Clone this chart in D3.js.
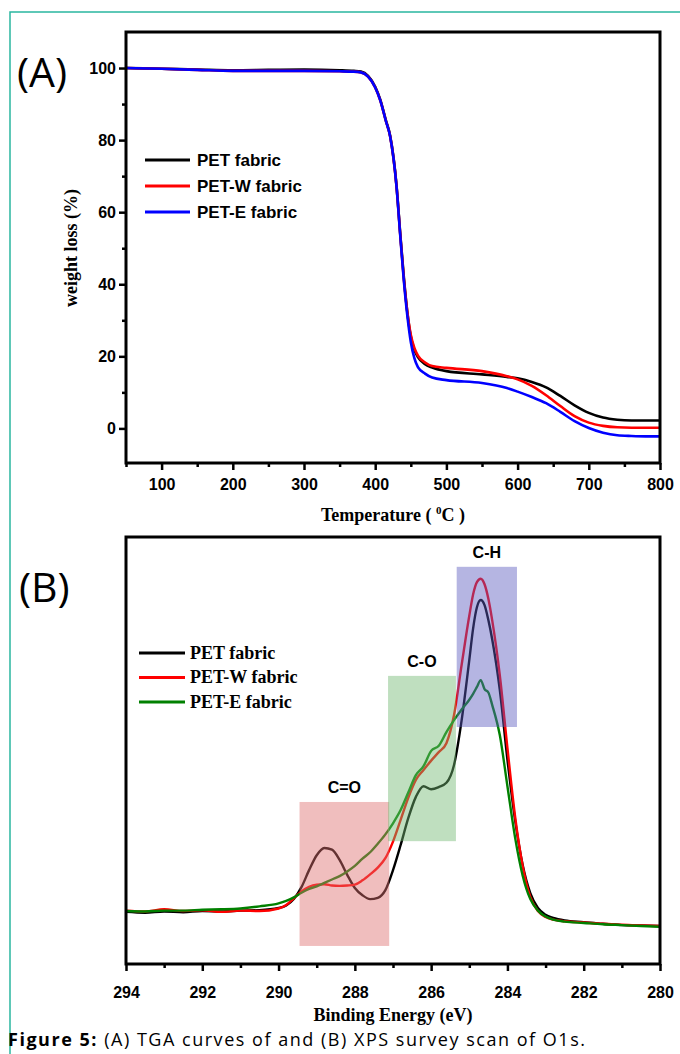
<!DOCTYPE html>
<html><head><meta charset="utf-8">
<script src="https://cdn.jsdelivr.net/npm/d3@7"></script>
<style>
html,body{margin:0;padding:0;background:#fff;}
svg{display:block;}
</style></head>
<body>
<svg id="fig" width="680" height="1054"></svg>
<script>
// ---------- Panel A: TGA data ----------
const tempC   = [50,100,150,200,250,300,350,370,380,390,400,407,415,421,430,435,440,445,450,455,460,470,480,500,550,585,600,620,640,660,680,700,720,740,760,780,800];
const petA    = [100,99.8,99.6,99.4,99.5,99.6,99.4,99.2,99.0,97.8,94.8,91.3,85.5,81.2,67.3,54.5,42.5,32.5,25.5,21.8,19.8,17.8,16.9,15.9,15.0,14.3,13.9,12.9,11.4,9.0,6.4,4.3,3.0,2.4,2.2,2.2,2.2];
const petWA   = [100,99.8,99.5,99.2,99.2,99.2,99.1,99.0,98.8,97.6,94.6,91.1,85.3,81.0,67.0,54.2,42.0,32.5,26.0,22.3,20.2,18.3,17.3,16.8,15.9,14.5,13.6,11.8,9.2,6.2,3.4,1.6,0.7,0.3,0.2,0.2,0.2];
const petEA   = [100,99.8,99.5,99.2,99.2,99.2,99.1,99.0,98.8,97.6,94.6,91.1,85.3,81.0,67.0,54.0,41.5,31.5,24.0,19.5,17.0,15.2,14.1,13.4,12.6,11.2,10.2,8.7,7.0,4.6,2.0,0.1,-1.2,-1.9,-2.1,-2.2,-2.2];
const tempTicks = [100,200,300,400,500,600,700,800];
const tempMinorTicks = [50,150,250,350,450,550,650,750];
const weightTicks = [0,20,40,60,80,100];
const weightMinorTicks = [10,30,50,70,90];
const seriesNamesA = ["PET fabric","PET-W fabric","PET-E fabric"];
const seriesColorsA = ["#000000","#ff0000","#0000ff"];

// ---------- Panel B: XPS data ----------
const energy = [294,293.5,293,292.5,292,291.5,291,290.5,290,289.8,289.6,289.4,289.2,289.0,288.8,288.6,288.4,288.2,288.0,287.8,287.6,287.4,287.2,287.0,286.8,286.6,286.4,286.2,286.0,285.8,285.6,285.4,285.2,285.0,284.9,284.8,284.7,284.6,284.5,284.4,284.2,284.0,283.8,283.6,283.4,283.2,283.0,282.8,282.5,282,281.5,281,280.5,280];
const petB  = [12.0,11.8,12.1,11.9,12.2,12.1,12.3,12.4,12.9,13.5,15.0,17.8,21.8,25.3,27.0,26.6,24.2,20.7,17.6,15.9,15.0,15.3,17.1,21.8,27.7,34.0,39.0,41.5,40.8,41.3,42.3,46.5,57.0,71.1,78.5,83.5,85.2,84.0,80.5,76.0,64.1,47.7,33.6,23.0,16.4,12.9,11.3,10.6,10.0,9.6,9.2,8.9,8.8,8.7];
const petWB = [12.3,12.1,12.6,12.2,12.4,12.0,12.3,12.2,12.8,13.6,15.2,16.8,17.9,18.4,18.5,18.2,18.1,18.2,18.4,19.4,20.8,22.4,24.6,28.5,33.6,38.8,43.0,45.3,47.5,49.5,51.6,58.2,70.0,81.5,86.5,89.4,90.2,88.9,85.5,80.5,67.6,50.5,34.5,22.8,15.5,12.2,10.8,10.2,9.8,9.5,9.2,9.0,8.8,8.7];
const petEB = [12.2,12.1,12.3,12.3,12.5,12.6,12.8,13.3,14.0,14.6,15.4,16.5,17.4,18.0,18.8,19.6,20.4,21.5,22.8,24.5,26.0,28.0,30.2,32.8,35.9,40.0,44.1,46.2,49.8,51.0,54.2,57.0,59.5,61.8,63.2,64.8,66.4,64.3,63.5,60.6,53.5,41.5,29.5,20.5,15.0,12.3,10.9,10.2,9.7,9.4,9.1,8.9,8.7,8.5];
const energyTicks = [294,292,290,288,286,284,282,280];
const energyMinorTicks = [293,291,289,287,285,283,281];
const seriesNamesB = ["PET fabric","PET-W fabric","PET-E fabric"];
const seriesColorsB = ["#000000","#ff0000","#008000"];
// bands
const bandLabels = ["C=O","C-O","C-H"];
const bandHigh   = [289.45,287.13,285.33];
const bandLow    = [287.1,285.35,283.75];
const bandTop    = [37.8,67.4,93.0];
const bandBottom = [4.0,28.6,55.4];
const bandColors = ["rgba(222,111,111,0.45)","rgba(113,184,113,0.45)","rgba(91,91,191,0.45)"];

const svg = d3.select("#fig");
const ARIAL = "'Liberation Sans', Arial, sans-serif";
const TIMES = "'Liberation Serif', 'Times New Roman', serif";
const CAL = "'Open Sans', 'Noto Sans', sans-serif";

// page border (teal)
svg.append("path").attr("d","M680,12 H10 V1054").attr("fill","none").attr("stroke","#2ab7a0").attr("stroke-width",1.5);

// ================= Panel A =================
const A = {l:126, r:660, t:32, b:463};
const xA = d3.scaleLinear().domain([50,800]).range([A.l,A.r]);
const yA = d3.scaleLinear().domain([-9.6,110]).range([A.b,A.t]);
const gA = svg.append("g");

const lineA = d3.line().x((d,i)=>xA(tempC[i])).y(d=>yA(d)).curve(d3.curveMonotoneX);
[petA, petWA, petEA].forEach((s,k)=>{
  gA.append("path").attr("d", lineA(s)).attr("fill","none")
    .attr("stroke", seriesColorsA[k]).attr("stroke-width",2.6).attr("stroke-linejoin","round");
});

const gx = gA.append("g").attr("transform",`translate(0,${A.b})`)
  .call(d3.axisBottom(xA).tickValues(tempTicks).tickSize(7).tickFormat(d3.format("d")));
gA.append("g").attr("transform",`translate(0,${A.b})`)
  .call(d3.axisBottom(xA).tickValues(tempMinorTicks).tickSize(4).tickFormat(""));
gA.append("g").attr("transform",`translate(${A.l},0)`)
  .call(d3.axisLeft(yA).tickValues(weightTicks).tickSize(7).tickFormat(d3.format("d")));
gA.append("g").attr("transform",`translate(${A.l},0)`)
  .call(d3.axisLeft(yA).tickValues(weightMinorTicks).tickSize(4).tickFormat(""));
gA.selectAll(".domain").remove();
gA.selectAll(".tick line").attr("stroke","#000").attr("stroke-width",2.5);
gA.selectAll(".tick text").attr("font-family",ARIAL).attr("font-weight","bold").attr("font-size",16).attr("fill","#000");
gx.selectAll(".tick text").attr("dy","1.05em");
gA.append("rect").attr("x",A.l).attr("y",A.t).attr("width",A.r-A.l).attr("height",A.b-A.t)
  .attr("fill","none").attr("stroke","#000").attr("stroke-width",3);

gA.append("text").attr("x",393).attr("y",521).attr("text-anchor","middle")
  .attr("font-family",TIMES).attr("font-weight","bold").attr("font-size",18)
  .call(t=>{t.append("tspan").text("Temperature ( ");
            t.append("tspan").text("0").attr("font-size",11).attr("dy",-7);
            t.append("tspan").text("C )").attr("dy",7);});
gA.append("text").attr("transform","translate(77,248) rotate(-90)").attr("text-anchor","middle")
  .attr("font-family",TIMES).attr("font-weight","bold").attr("font-size",18).text("weight loss (%)");
svg.append("text").attr("x",17).attr("y",87).attr("font-family",CAL).attr("font-size",41).text("(A)");

seriesNamesA.forEach((n,k)=>{
  const y = 160 + k*26;
  gA.append("line").attr("x1",145).attr("x2",190).attr("y1",y).attr("y2",y)
    .attr("stroke",seriesColorsA[k]).attr("stroke-width",3);
  gA.append("text").attr("x",197).attr("y",y).attr("dy","0.36em")
    .attr("font-family",ARIAL).attr("font-weight","bold").attr("font-size",17).text(n);
});

// ================= Panel B =================
const B = {l:126, r:660, t:537, b:964};
const xB = d3.scaleLinear().domain([294,280]).range([B.l,B.r]);
const yB = d3.scaleLinear().domain([0,100]).range([963,537]);
const gB = svg.append("g");

const lineB = d3.line().x((d,i)=>xB(energy[i])).y(d=>yB(d)).curve(d3.curveMonotoneX);
[petB, petWB, petEB].forEach((s,k)=>{
  gB.append("path").attr("d", lineB(s)).attr("fill","none")
    .attr("stroke", seriesColorsB[k]).attr("stroke-width",2.4).attr("stroke-linejoin","round");
});
bandLabels.forEach((lab,k)=>{
  gB.append("rect").attr("x",xB(bandHigh[k])).attr("width",xB(bandLow[k])-xB(bandHigh[k]))
    .attr("y",yB(bandTop[k])).attr("height",yB(bandBottom[k])-yB(bandTop[k]))
    .attr("fill",bandColors[k]);
  gB.append("text").attr("x",(xB(bandHigh[k])+xB(bandLow[k]))/2).attr("y",yB(bandTop[k])-9)
    .attr("text-anchor","middle").attr("font-family",ARIAL).attr("font-weight","bold").attr("font-size",16).text(lab);
});

const gxb = gB.append("g").attr("transform",`translate(0,${B.b})`)
  .call(d3.axisBottom(xB).tickValues(energyTicks).tickSize(7).tickFormat(d3.format("d")));
gB.append("g").attr("transform",`translate(0,${B.b})`)
  .call(d3.axisBottom(xB).tickValues(energyMinorTicks).tickSize(4).tickFormat(""));
gB.selectAll(".domain").remove();
gB.selectAll(".tick line").attr("stroke","#000").attr("stroke-width",2.5);
gB.selectAll(".tick text").attr("font-family",ARIAL).attr("font-weight","bold").attr("font-size",16).attr("fill","#000");
gxb.selectAll(".tick text").attr("dy","1.5em");
gB.append("rect").attr("x",B.l).attr("y",B.t).attr("width",B.r-B.l).attr("height",B.b-B.t)
  .attr("fill","none").attr("stroke","#000").attr("stroke-width",3);

gB.append("text").attr("x",393).attr("y",1021).attr("text-anchor","middle")
  .attr("font-family",TIMES).attr("font-weight","bold").attr("font-size",18).text("Binding Energy (eV)");
svg.append("text").attr("x",19).attr("y",602).attr("font-family",CAL).attr("font-size",41).text("(B)");

seriesNamesB.forEach((n,k)=>{
  const y = 653 + k*24.5;
  gB.append("line").attr("x1",139).attr("x2",185).attr("y1",y).attr("y2",y)
    .attr("stroke",seriesColorsB[k]).attr("stroke-width",3);
  gB.append("text").attr("x",190).attr("y",y).attr("dy","0.33em")
    .attr("font-family",TIMES).attr("font-weight","bold").attr("font-size",18).text(n);
});

// caption
svg.append("text").attr("x",8).attr("y",1046).attr("font-family",CAL).attr("font-size",18)
  .attr("textLength",577).attr("lengthAdjust","spacing")
  .call(t=>{t.append("tspan").attr("font-weight","bold").text("Figure 5:");
            t.append("tspan").text(" (A) TGA curves of and (B) XPS survey scan of O1s.");});
</script>
</body></html>
